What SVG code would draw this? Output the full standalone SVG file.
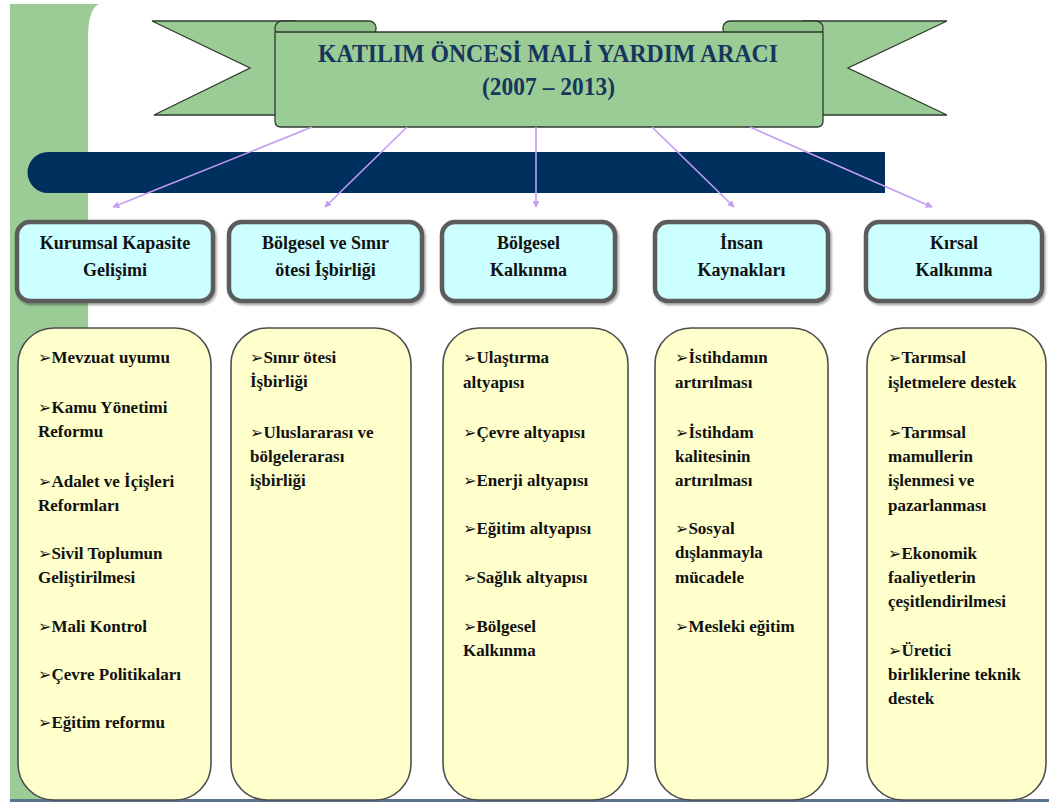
<svg xmlns="http://www.w3.org/2000/svg" width="1049" height="802" viewBox="0 0 1049 802">
  <style>
    .green { fill: #9ccc96; stroke: #2e3a2c; stroke-width: 1.3; }
    .curl { fill: #8fc389; stroke: #2e3a2c; stroke-width: 1.3; }
    .title { font-family: "Liberation Serif", "Times New Roman", serif; font-weight: bold; font-size: 26px; fill: #17365d; text-anchor: middle; }
    .head { fill: #ccffff; stroke: #5c5c5c; stroke-width: 4.5; }
    .headtxt { font-family: "Liberation Serif", "Times New Roman", serif; font-weight: bold; font-size: 18px; fill: #111; text-anchor: middle; }
    .card { fill: #ffffcc; stroke: #4d4d4d; stroke-width: 1.6; }
    .item { font-family: "Liberation Serif", "Times New Roman", serif; font-weight: bold; font-size: 17px; fill: #111; }
    .bul { font-family: "DejaVu Sans", sans-serif; font-size: 16px; }
    .link { stroke: #c49cf4; stroke-width: 1.6; fill: none; marker-end: url(#arr); }
  </style>
  <defs>
    <marker id="arr" viewBox="0 0 10 10" refX="9" refY="5" markerWidth="7" markerHeight="7" orient="auto" markerUnits="userSpaceOnUse">
      <path d="M0,0 L10,5 L0,10 Z" fill="#c49cf4"/>
    </marker>
    <filter id="shade" x="-5%" y="-5%" width="115%" height="120%">
      <feDropShadow dx="1.5" dy="2" stdDeviation="1.2" flood-color="#000" flood-opacity="0.35"/>
    </filter>
  </defs>

  <!-- page background with green side strip -->
  <rect x="0" y="0" width="1049" height="802" fill="#ffffff"/>
  <rect x="10" y="4" width="78" height="796" fill="#9ccc96"/>
  <path d="M88,4 L99,4 C91,8 88,20 88,42 Z" fill="#9ccc96"/>
  <rect x="10" y="799" width="1039" height="3" fill="#5d7290"/>

  <!-- title ribbon -->
  <g id="title-ribbon">
    <path class="green" d="M152,21 H295 V115 H154 L250,68 Z"/>
    <path class="green" d="M947,21 H803 V115 H947 L848,68 Z"/>
    <rect class="curl" x="275" y="21" width="101" height="15" rx="7"/>
    <rect class="curl" x="723" y="21" width="100" height="15" rx="7"/>
    <path class="green" d="M275,32 H823 V121 Q823,127 817,127 H281 Q275,127 275,121 Z"/>
    <text class="title" x="548" y="62" textLength="460" lengthAdjust="spacingAndGlyphs">KATILIM ÖNCESİ MALİ YARDIM ARACI</text>
    <text class="title" x="548.5" y="95" textLength="133" lengthAdjust="spacingAndGlyphs">(2007 – 2013)</text>
  </g>

  <!-- navy band -->
  <path id="band" d="M48,152 H885 V193 H48 A20.5,20.5 0 0 1 48,152 Z" fill="#00305e"/>

  <!-- connectors -->
  <g id="connectors">
    <line class="link" x1="312" y1="127" x2="113" y2="207"/>
    <line class="link" x1="407" y1="127" x2="325" y2="207"/>
    <line class="link" x1="536" y1="127" x2="536" y2="207"/>
    <line class="link" x1="652" y1="127" x2="734" y2="207"/>
    <line class="link" x1="750" y1="127" x2="932" y2="207"/>
  </g>

  <!-- heading boxes -->
  <g id="head-kurumsal">
    <rect class="head" x="17" y="222" width="196" height="79" rx="13" filter="url(#shade)"/>
    <text class="headtxt" x="115" y="249">Kurumsal Kapasite</text>
    <text class="headtxt" x="115" y="276">Gelişimi</text>
  </g>
  <g id="head-sinir">
    <rect class="head" x="229" y="222" width="193" height="79" rx="13" filter="url(#shade)"/>
    <text class="headtxt" x="325.5" y="249">Bölgesel ve Sınır</text>
    <text class="headtxt" x="325.5" y="276">ötesi İşbirliği</text>
  </g>
  <g id="head-bolgesel">
    <rect class="head" x="442" y="222" width="173" height="79" rx="13" filter="url(#shade)"/>
    <text class="headtxt" x="528.5" y="249">Bölgesel</text>
    <text class="headtxt" x="528.5" y="276">Kalkınma</text>
  </g>
  <g id="head-insan">
    <rect class="head" x="655" y="222" width="173" height="79" rx="13" filter="url(#shade)"/>
    <text class="headtxt" x="741.5" y="249">İnsan</text>
    <text class="headtxt" x="741.5" y="276">Kaynakları</text>
  </g>
  <g id="head-kirsal">
    <rect class="head" x="866" y="222" width="176" height="79" rx="13" filter="url(#shade)"/>
    <text class="headtxt" x="954" y="249">Kırsal</text>
    <text class="headtxt" x="954" y="276">Kalkınma</text>
  </g>

  <!-- item cards -->
  <g id="card-kurumsal">
    <rect class="card" x="18" y="328" width="193" height="472" rx="36"/>
    <text class="item" x="38" y="363"><tspan class="bul">➢</tspan>Mevzuat  uyumu</text>
    <text class="item" x="38" y="413"><tspan class="bul">➢</tspan>Kamu Yönetimi</text>
    <text class="item" x="38" y="437">Reformu</text>
    <text class="item" x="38" y="487"><tspan class="bul">➢</tspan>Adalet ve İçişleri</text>
    <text class="item" x="38" y="511">Reformları</text>
    <text class="item" x="38" y="559"><tspan class="bul">➢</tspan>Sivil Toplumun</text>
    <text class="item" x="38" y="583">Geliştirilmesi</text>
    <text class="item" x="38" y="632"><tspan class="bul">➢</tspan>Mali Kontrol</text>
    <text class="item" x="38" y="680"><tspan class="bul">➢</tspan>Çevre Politikaları</text>
    <text class="item" x="38" y="728"><tspan class="bul">➢</tspan>Eğitim reformu</text>
  </g>
  <g id="card-sinir">
    <rect class="card" x="231" y="328" width="180" height="472" rx="36"/>
    <text class="item" x="250" y="363"><tspan class="bul">➢</tspan>Sınır ötesi</text>
    <text class="item" x="250" y="387">İşbirliği</text>
    <text class="item" x="250" y="438"><tspan class="bul">➢</tspan>Uluslararası ve</text>
    <text class="item" x="250" y="462">bölgelerarası</text>
    <text class="item" x="250" y="486">işbirliği</text>
  </g>
  <g id="card-bolgesel">
    <rect class="card" x="443" y="328" width="185" height="472" rx="36"/>
    <text class="item" x="463" y="363"><tspan class="bul">➢</tspan>Ulaştırma</text>
    <text class="item" x="463" y="388">altyapısı</text>
    <text class="item" x="463" y="438"><tspan class="bul">➢</tspan>Çevre altyapısı</text>
    <text class="item" x="463" y="486"><tspan class="bul">➢</tspan>Enerji altyapısı</text>
    <text class="item" x="463" y="534"><tspan class="bul">➢</tspan>Eğitim altyapısı</text>
    <text class="item" x="463" y="583"><tspan class="bul">➢</tspan>Sağlık altyapısı</text>
    <text class="item" x="463" y="632"><tspan class="bul">➢</tspan>Bölgesel</text>
    <text class="item" x="463" y="656">Kalkınma</text>
  </g>
  <g id="card-insan">
    <rect class="card" x="655" y="328" width="173" height="472" rx="36"/>
    <text class="item" x="675" y="363"><tspan class="bul">➢</tspan>İstihdamın</text>
    <text class="item" x="675" y="388">artırılması</text>
    <text class="item" x="675" y="438"><tspan class="bul">➢</tspan>İstihdam</text>
    <text class="item" x="675" y="462">kalitesinin</text>
    <text class="item" x="675" y="486">artırılması</text>
    <text class="item" x="675" y="534"><tspan class="bul">➢</tspan>Sosyal</text>
    <text class="item" x="675" y="558">dışlanmayla</text>
    <text class="item" x="675" y="583">mücadele</text>
    <text class="item" x="675" y="632"><tspan class="bul">➢</tspan>Mesleki eğitim</text>
  </g>
  <g id="card-kirsal">
    <rect class="card" x="867" y="328" width="179" height="472" rx="36"/>
    <text class="item" x="888" y="363"><tspan class="bul">➢</tspan>Tarımsal</text>
    <text class="item" x="888" y="388">işletmelere destek</text>
    <text class="item" x="888" y="438"><tspan class="bul">➢</tspan>Tarımsal</text>
    <text class="item" x="888" y="462">mamullerin</text>
    <text class="item" x="888" y="486">işlenmesi ve</text>
    <text class="item" x="888" y="511">pazarlanması</text>
    <text class="item" x="888" y="559"><tspan class="bul">➢</tspan>Ekonomik</text>
    <text class="item" x="888" y="583">faaliyetlerin</text>
    <text class="item" x="888" y="607">çeşitlendirilmesi</text>
    <text class="item" x="888" y="656"><tspan class="bul">➢</tspan>Üretici</text>
    <text class="item" x="888" y="680">birliklerine teknik</text>
    <text class="item" x="888" y="704">destek</text>
  </g>
</svg>
